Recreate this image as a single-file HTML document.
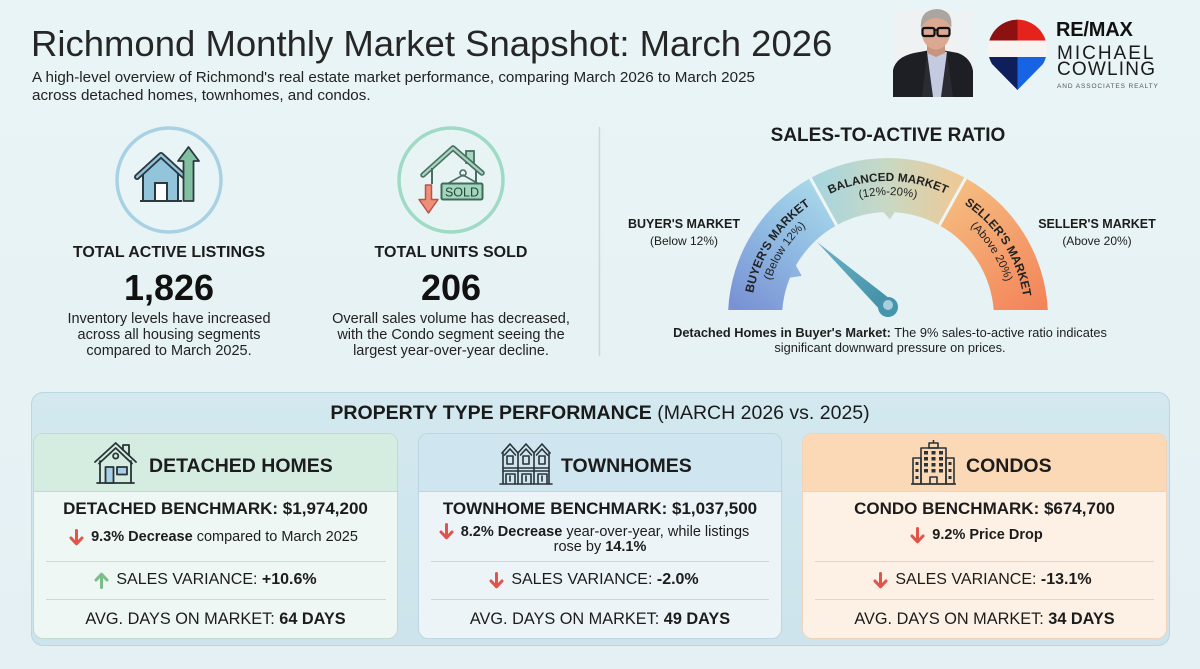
<!DOCTYPE html>
<html lang="en"><head><meta charset="utf-8"><title>Richmond Monthly Market Snapshot: March 2026</title>
<style>
*{margin:0;padding:0;box-sizing:border-box}
html,body{width:1200px;height:669px}
body{position:relative;overflow:hidden;background:linear-gradient(180deg,#e9f4f6 0%,#e6f2f4 55%,#e4f0f3 100%);font-family:"Liberation Sans",Arial,sans-serif;color:#1c1c1c}
.a{position:absolute;white-space:nowrap}
.cc{text-align:center}
.b{font-weight:700}
.row{position:absolute;display:flex;justify-content:center;align-items:center;white-space:nowrap}
.row svg{flex:none;margin-right:7px}
.card{position:absolute;top:433px;height:206px;border-radius:10px;overflow:hidden}
.hd{height:58px}
.dv{position:absolute;height:1px}
svg.ov{position:absolute;left:0;top:0}
</style></head><body>

<!-- bottom panel and cards -->
<div style="position:absolute;left:31px;top:392px;width:1139px;height:254px;border-radius:12px;background:linear-gradient(180deg,#d3e8ef,#cde4ec);border:1px solid #bad6e1"></div>
<div class="card" style="left:33px;width:365px;background:#eef7f3;border:1px solid #c2dacd"><div class="hd" style="background:#d5ede1;border-bottom:1px solid #c2dacd"></div></div>
<div class="card" style="left:418px;width:364px;background:#ecf4f7;border:1px solid #bed6e1"><div class="hd" style="background:#cfe5ef;border-bottom:1px solid #bed6e1"></div></div>
<div class="card" style="left:802px;width:365px;background:#fdf0e4;border:1px solid #efd3bb"><div class="hd" style="background:#fbd8b6;border-bottom:1px solid #efd3bb"></div></div>

<div class="dv" style="left:46px;width:340px;top:561px;background:#cdd9d4"></div>
<div class="dv" style="left:46px;width:340px;top:599px;background:#cdd9d4"></div>
<div class="dv" style="left:431px;width:338px;top:561px;background:#c9d6dc"></div>
<div class="dv" style="left:431px;width:338px;top:599px;background:#c9d6dc"></div>
<div class="dv" style="left:815px;width:339px;top:561px;background:#e3d5c9"></div>
<div class="dv" style="left:815px;width:339px;top:599px;background:#e3d5c9"></div>

<svg class="ov" width="1200" height="669" viewBox="0 0 1200 669" xmlns="http://www.w3.org/2000/svg">
<defs>
<linearGradient id="gB" gradientUnits="userSpaceOnUse" x1="735" y1="305" x2="822" y2="185"><stop offset="0" stop-color="#7a92d4"/><stop offset="0.55" stop-color="#90bbe3"/><stop offset="1" stop-color="#a9d9ea"/></linearGradient>
<linearGradient id="gM" gradientUnits="userSpaceOnUse" x1="812" y1="0" x2="965" y2="0"><stop offset="0" stop-color="#a5d5e0"/><stop offset="0.5" stop-color="#c9d8c3"/><stop offset="1" stop-color="#f0c893"/></linearGradient>
<linearGradient id="gS" gradientUnits="userSpaceOnUse" x1="955" y1="185" x2="1045" y2="305"><stop offset="0" stop-color="#f5bd80"/><stop offset="1" stop-color="#f3845a"/></linearGradient>
<linearGradient id="gN" gradientUnits="userSpaceOnUse" x1="817" y1="242" x2="888" y2="307"><stop offset="0" stop-color="#6fb3c6"/><stop offset="1" stop-color="#3f8fa7"/></linearGradient>
<path id="pm" d="M751,318 A137,137 0 0 1 1025,318" fill="none"/>
<path id="ps" d="M765,318 A123,123 0 0 1 1011,318" fill="none"/>
<clipPath id="pin"><path d="M1017.5,90 L992,64 A29.5,29.5 0 1 1 1043,64 Z"/></clipPath>
</defs>

<!-- photo -->
<rect x="893" y="10" width="80" height="87" fill="#eef2f3"/>
<path d="M893,97 L893,70 Q896,57 914,53 L936,49 L958,53 Q971,58 973,71 L973,97 Z" fill="#1e1f25"/>
<path d="M927,52 L936,50 L947,52 L944,97 L930,97 Z" fill="#c4cbe0"/>
<path d="M927,52 L933,97 L922,97 Z M947,52 L941,97 L953,97 Z" fill="#2a2b33"/>
<path d="M927,41 L945,41 L945,53 L936,57 L927,53 Z" fill="#c9947f"/>
<ellipse cx="936" cy="31" rx="14.5" ry="18.5" fill="#dba891"/>
<path d="M921,29 Q919,10 937,9 Q954,10 951,29 Q949,19 936,18 Q924,19 921,29 Z" fill="#aaa59f"/>
<rect x="922.5" y="28" width="12" height="8" rx="2" fill="none" stroke="#111" stroke-width="2.2"/>
<rect x="937.5" y="28" width="12" height="8" rx="2" fill="none" stroke="#111" stroke-width="2.2"/>
<line x1="934" y1="30" x2="938" y2="30" stroke="#111" stroke-width="1.6"/>

<!-- RE/MAX balloon -->
<g clip-path="url(#pin)">
<rect x="985" y="15" width="33" height="25.5" fill="#8e1111"/>
<rect x="1017.5" y="15" width="33" height="25.5" fill="#e5231d"/>
<rect x="985" y="40.5" width="66" height="16.5" fill="#f6f3f0"/>
<rect x="985" y="57" width="33" height="40" fill="#0e1f5c"/>
<rect x="1017.5" y="57" width="33" height="40" fill="#1664e4"/>
</g>

<!-- circle 1 -->
<circle cx="169" cy="180" r="52" fill="#e9f4f6" stroke="#a8d2e4" stroke-width="3.5"/>
<path d="M143,201 V172 L161,157 L178,172 V201 Z" fill="#92c5dc" stroke="#2c3a40" stroke-width="2" stroke-linejoin="round"/>
<path d="M137,177 L161,155 L185,177" fill="none" stroke="#2c3a40" stroke-width="6" stroke-linejoin="round" stroke-linecap="round"/>
<path d="M137,177 L161,155 L185,177" fill="none" stroke="#92c5dc" stroke-width="2.4" stroke-linejoin="round" stroke-linecap="round"/>
<rect x="155" y="183" width="12" height="18" fill="#fff" stroke="#2c3a40" stroke-width="2"/>
<line x1="140" y1="201" x2="182" y2="201" stroke="#2c3a40" stroke-width="2"/>
<path d="M183.5,201 V161 H178 L188.5,147 L199,161 H193.5 V201 Z" fill="#80c0a0" stroke="#2c3a40" stroke-width="1.8" stroke-linejoin="round"/>

<!-- circle 2 -->
<circle cx="451" cy="180" r="52" fill="#e8f4f4" stroke="#9fdac4" stroke-width="3.5"/>
<rect x="466" y="151" width="8" height="12" fill="#a6d6c0" stroke="#4b6e62" stroke-width="1.8"/>
<path d="M423,175 L453,148 L482,173" fill="none" stroke="#4b6e62" stroke-width="5.5" stroke-linejoin="round" stroke-linecap="round"/>
<path d="M423,175 L453,148 L482,173" fill="none" stroke="#a6d6c0" stroke-width="2.2" stroke-linejoin="round" stroke-linecap="round"/>
<path d="M432,168 V184" stroke="#4b6e62" stroke-width="2"/>
<path d="M476,170 V184" stroke="#4b6e62" stroke-width="2"/>
<circle cx="463" cy="173" r="3" fill="none" stroke="#4b6e62" stroke-width="1.6"/>
<path d="M447,184 L463,175 L479,184" fill="none" stroke="#4b6e62" stroke-width="1.6"/>
<rect x="441.5" y="183.5" width="41" height="16" rx="1.5" fill="#a3d6bd" stroke="#3f6b5c" stroke-width="2"/>
<text x="462" y="196.5" font-family="Liberation Sans, Arial, sans-serif" font-size="12.5" text-anchor="middle" fill="#25443a">SOLD</text>
<path d="M425.5,185 H431.5 V199.5 H438 L428.5,213 L419,199.5 H425.5 Z" fill="#ef8e78" stroke="#b9534a" stroke-width="1.5" stroke-linejoin="round"/>

<!-- divider -->
<line x1="599.5" y1="127" x2="599.5" y2="356" stroke="#c9d6da" stroke-width="1.5"/>

<!-- gauge -->
<path d="M728.2,310 A160,160 0 0 1 810.4,178.1 L836.6,225.3 A106,106 0 0 0 782.3,310 Z" fill="url(#gB)"/>
<path d="M810.4,178.1 A160,160 0 0 1 965.6,178.1 L939.4,225.3 A106,106 0 0 0 836.6,225.3 Z" fill="url(#gM)"/>
<path d="M965.6,178.1 A160,160 0 0 1 1047.8,310 L993.7,310 A106,106 0 0 0 939.4,225.3 Z" fill="url(#gS)"/>
<line x1="810.4" y1="178.1" x2="836.6" y2="225.3" stroke="#eef5f3" stroke-width="3"/>
<line x1="965.6" y1="178.1" x2="939.4" y2="225.3" stroke="#eef5f3" stroke-width="3"/>
<polygon points="883,211.5 895,211.5 890,219.5" fill="#c6d8c4"/>
<polygon points="795.3,264.5 788.8,277.9 801.7,275.9" fill="#8fb3df"/>
<g font-family="Liberation Sans, Arial, sans-serif" fill="#222">
<text font-size="12" font-weight="700"><textPath href="#pm" startOffset="18.3%" text-anchor="middle">BUYER'S MARKET</textPath></text>
<text font-size="11.5"><textPath href="#ps" startOffset="18.3%" text-anchor="middle">(Below 12%)</textPath></text>
<text font-size="11.8" font-weight="700"><textPath href="#pm" startOffset="50%" text-anchor="middle">BALANCED MARKET</textPath></text>
<text font-size="11.5"><textPath href="#ps" startOffset="50%" text-anchor="middle">(12%-20%)</textPath></text>
<text font-size="12" font-weight="700"><textPath href="#pm" startOffset="81.9%" text-anchor="middle">SELLER'S MARKET</textPath></text>
<text font-size="11.5"><textPath href="#ps" startOffset="81.9%" text-anchor="middle">(Above 20%)</textPath></text>
</g>
<polygon points="894,302 817,242 882,312" fill="url(#gN)"/>
<circle cx="888" cy="307" r="10" fill="#4795ac"/>
<circle cx="888" cy="305" r="5" fill="#a9cfdd"/>

<!-- detached icon -->
<g fill="none" stroke="#2a3338" stroke-width="1.8" stroke-linejoin="round" stroke-linecap="round">
<path d="M123,450 V445 H129 V455"/>
<path d="M95,462 L115.7,443 L136,462"/>
<path d="M99,463.5 L115.7,448 L132,463.5"/>
<path d="M100,461 V483 M131,461 V483"/>
<path d="M97,483 H134"/>
<circle cx="115.7" cy="456" r="2.6"/>
<rect x="105.5" y="467" width="8" height="16" fill="#a9cfe6"/>
<rect x="117" y="467" width="10" height="7.5" fill="#a9cfe6"/>
</g>

<!-- townhomes icon -->
<g fill="none" stroke="#2a3338" stroke-width="1.6" stroke-linejoin="round" stroke-linecap="round">
<path d="M502,453 L510,444 L518,453 L526,444 L534,453 L542,444 L550,453"/>
<path d="M504.5,455 L510,449 L515.5,455 M520.5,455 L526,449 L531.5,455 M536.5,455 L542,449 L547.5,455"/>
<path d="M503,453 V484 M518,453 V484 M534,453 V484 M549,453 V484"/>
<rect x="507" y="456" width="6" height="8"/><rect x="523" y="456" width="6" height="8"/><rect x="539" y="456" width="6" height="8"/>
<path d="M503,468 H549 M503,471 H549"/>
<path d="M506,484 V474 H515 V484 M522,484 V474 H531 V484 M538,484 V474 H547 V484"/>
<path d="M510,476 V481 M526,476 V481 M542,476 V481"/>
<path d="M500,484 H552"/>
</g>

<!-- condo icon -->
<g fill="none" stroke="#2a3338" stroke-width="1.6" stroke-linejoin="round">
<rect x="921" y="448" width="25" height="36"/>
<rect x="929" y="443" width="9" height="5"/>
<path d="M933.5,443 V440"/>
<rect x="913" y="458" width="8" height="26"/>
<rect x="946" y="458" width="8" height="26"/>
<path d="M911,484 H956"/>
<path d="M930,484 V477 H937 V484"/>
</g>
<g fill="#2a3338">
<rect x="924" y="451" width="4" height="3.5"/><rect x="931.5" y="451" width="4" height="3.5"/><rect x="939" y="451" width="4" height="3.5"/>
<rect x="924" y="457" width="4" height="3.5"/><rect x="931.5" y="457" width="4" height="3.5"/><rect x="939" y="457" width="4" height="3.5"/>
<rect x="924" y="463" width="4" height="3.5"/><rect x="931.5" y="463" width="4" height="3.5"/><rect x="939" y="463" width="4" height="3.5"/>
<rect x="924" y="469" width="4" height="3.5"/><rect x="931.5" y="469" width="4" height="3.5"/><rect x="939" y="469" width="4" height="3.5"/>
<rect x="915.5" y="462" width="3" height="3"/><rect x="915.5" y="469" width="3" height="3"/><rect x="915.5" y="476" width="3" height="3"/>
<rect x="948.5" y="462" width="3" height="3"/><rect x="948.5" y="469" width="3" height="3"/><rect x="948.5" y="476" width="3" height="3"/>
</g>
</svg>

<!-- header text -->
<div class="a" style="left:31px;top:24px;font-size:36.5px;line-height:40px;color:#262626">Richmond Monthly Market Snapshot: March 2026</div>
<div class="a" style="left:32px;top:69px;font-size:15.2px;line-height:17.5px;color:#222">A high-level overview of Richmond's real estate market performance, comparing March 2026 to March 2025<br>across detached homes, townhomes, and condos.</div>

<div class="a b" style="left:1056px;top:20px;font-size:20px;line-height:20px;letter-spacing:-0.2px;color:#111">RE/MAX</div>
<div class="a" style="left:1057px;top:44px;font-size:19px;line-height:20px;letter-spacing:2px;color:#1a1a1a">MICHAEL</div>
<div class="a" style="left:1057px;top:60px;font-size:19px;line-height:20px;letter-spacing:1.2px;color:#1a1a1a">COWLING</div>
<div class="a" style="left:1057px;top:83px;font-size:6.5px;line-height:8px;letter-spacing:0.9px;color:#555">AND ASSOCIATES REALTY</div>

<!-- stats -->
<div class="a cc b" style="left:19px;width:300px;top:243px;font-size:16px;line-height:20px">TOTAL ACTIVE LISTINGS</div>
<div class="a cc b" style="left:19px;width:300px;top:268px;font-size:36px;line-height:40px;color:#111">1,826</div>
<div class="a cc" style="left:19px;width:300px;top:311px;font-size:14.5px;line-height:16px;color:#222">Inventory levels have increased<br>across all housing segments<br>compared to March 2025.</div>

<div class="a cc b" style="left:301px;width:300px;top:243px;font-size:16px;line-height:20px">TOTAL UNITS SOLD</div>
<div class="a cc b" style="left:301px;width:300px;top:268px;font-size:36px;line-height:40px;color:#111">206</div>
<div class="a cc" style="left:301px;width:300px;top:311px;font-size:14.5px;line-height:16px;color:#222">Overall sales volume has decreased,<br>with the Condo segment seeing the<br>largest year-over-year decline.</div>

<!-- gauge text -->
<div class="a cc b" style="left:738px;width:300px;top:125px;font-size:19px;line-height:22px">SALES-TO-ACTIVE RATIO</div>
<div class="a cc b" style="left:604px;width:160px;top:216px;font-size:12.5px;line-height:16px">BUYER'S MARKET</div>
<div class="a cc" style="left:604px;width:160px;top:233px;font-size:12px;line-height:16px">(Below 12%)</div>
<div class="a cc b" style="left:1017px;width:160px;top:216px;font-size:12.5px;line-height:16px">SELLER'S MARKET</div>
<div class="a cc" style="left:1017px;width:160px;top:233px;font-size:12px;line-height:16px">(Above 20%)</div>
<div class="a cc" style="left:640px;width:500px;top:325px;font-size:12.8px;line-height:15px;color:#1e1e1e"><span class="b">Detached Homes in Buyer's Market:</span> The 9% sales-to-active ratio indicates<br>significant downward pressure on prices.</div>

<!-- bottom section text -->
<div class="a cc" style="left:300px;width:600px;top:402px;font-size:19.5px;line-height:22px;color:#1a1a1a"><span class="b">PROPERTY TYPE PERFORMANCE</span> (MARCH 2026 vs. 2025)</div>

<div class="a b" style="left:149px;top:454.5px;font-size:19.5px;line-height:22px">DETACHED HOMES</div>
<div class="a b" style="left:561px;top:454.5px;font-size:19.5px;line-height:22px">TOWNHOMES</div>
<div class="a b" style="left:966px;top:454.5px;font-size:19.5px;line-height:22px">CONDOS</div>

<!-- card 1 -->
<div class="a cc b" style="left:33px;width:365px;top:499px;font-size:17px;line-height:20px">DETACHED BENCHMARK: $1,974,200</div>
<div class="row" style="left:31px;width:365px;top:528px;height:18px;font-size:14.5px"><svg width="15" height="17" viewBox="0 0 15 17"><path d="M7.5,1.5 V14.5 M2,9 L7.5,14.8 L13,9" stroke="#e0554b" stroke-width="3" fill="none" stroke-linecap="round" stroke-linejoin="round"/></svg><span><b>9.3% Decrease</b> compared to March 2025</span></div>
<div class="row" style="left:23px;width:365px;top:570px;height:20px;font-size:16px"><svg width="15" height="17" viewBox="0 0 15 17"><path d="M7.5,15.5 V2.5 M2,8 L7.5,2.2 L13,8" stroke="#79bd88" stroke-width="3" fill="none" stroke-linecap="round" stroke-linejoin="round"/></svg><span>SALES VARIANCE: <b>+10.6%</b></span></div>
<div class="a cc" style="left:33px;width:365px;top:609px;font-size:16.3px;line-height:20px">AVG. DAYS ON MARKET: <b>64 DAYS</b></div>

<!-- card 2 -->
<div class="a cc b" style="left:418px;width:364px;top:499px;font-size:17px;line-height:20px">TOWNHOME BENCHMARK: $1,037,500</div>
<div class="a cc" style="left:412px;width:364px;top:523px;font-size:14.5px;line-height:16px"><svg width="15" height="17" viewBox="0 0 15 17" style="vertical-align:-4px;margin-right:7px"><path d="M7.5,1.5 V14.5 M2,9 L7.5,14.8 L13,9" stroke="#e0554b" stroke-width="3" fill="none" stroke-linecap="round" stroke-linejoin="round"/></svg><b>8.2% Decrease</b> year-over-year, while listings</div>
<div class="a cc" style="left:418px;width:364px;top:539px;font-size:14.5px;line-height:16px">rose by <b>14.1%</b></div>
<div class="row" style="left:412px;width:364px;top:570px;height:20px;font-size:16px"><svg width="15" height="17" viewBox="0 0 15 17"><path d="M7.5,1.5 V14.5 M2,9 L7.5,14.8 L13,9" stroke="#e0554b" stroke-width="3" fill="none" stroke-linecap="round" stroke-linejoin="round"/></svg><span>SALES VARIANCE: <b>-2.0%</b></span></div>
<div class="a cc" style="left:418px;width:364px;top:609px;font-size:16.3px;line-height:20px">AVG. DAYS ON MARKET: <b>49 DAYS</b></div>

<!-- card 3 -->
<div class="a cc b" style="left:802px;width:365px;top:499px;font-size:17px;line-height:20px">CONDO BENCHMARK: $674,700</div>
<div class="row" style="left:794px;width:365px;top:526px;height:18px;font-size:14.5px"><svg width="15" height="17" viewBox="0 0 15 17"><path d="M7.5,1.5 V14.5 M2,9 L7.5,14.8 L13,9" stroke="#e0554b" stroke-width="3" fill="none" stroke-linecap="round" stroke-linejoin="round"/></svg><span class="b">9.2% Price Drop</span></div>
<div class="row" style="left:800px;width:365px;top:570px;height:20px;font-size:16px"><svg width="15" height="17" viewBox="0 0 15 17"><path d="M7.5,1.5 V14.5 M2,9 L7.5,14.8 L13,9" stroke="#e0554b" stroke-width="3" fill="none" stroke-linecap="round" stroke-linejoin="round"/></svg><span>SALES VARIANCE: <b>-13.1%</b></span></div>
<div class="a cc" style="left:802px;width:365px;top:609px;font-size:16.3px;line-height:20px">AVG. DAYS ON MARKET: <b>34 DAYS</b></div>

</body></html>
